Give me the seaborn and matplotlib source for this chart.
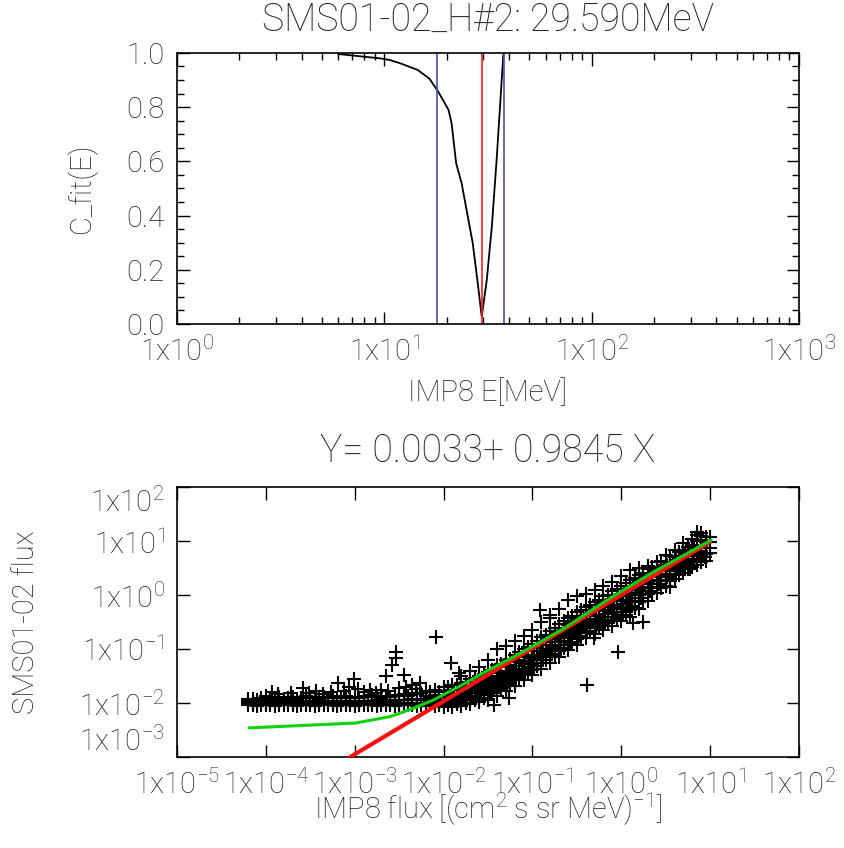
import numpy as np
import pandas as pd
import matplotlib
matplotlib.use("Agg")
import matplotlib.pyplot as plt
import seaborn as sns
from matplotlib.ticker import FixedLocator, FuncFormatter, LogLocator, NullLocator, MultipleLocator

# ---- top panel: C_fit(E) against IMP8 energy
e_mev = [5.98, 7.98, 9.53, 10.6, 11.9, 14.5, 16.5, 18.2, 20.4, 21.1, 22.2, 23.6,
         25.1, 26.7, 28.1, 29.5, 31.2, 33.0, 34.8, 36.4, 37.5]
c_fit = [0.996, 0.986, 0.980, 0.974, 0.962, 0.937, 0.905, 0.857, 0.790, 0.741, 0.593, 0.519,
         0.408, 0.298, 0.162, 0.027, 0.162, 0.359, 0.605, 0.839, 0.993]
e_best = 29.590
e_band = [18.0, 37.7]

# ---- bottom panel: SMS01-02 flux against IMP8 flux (log10 values)
fit_a, fit_b = 0.0033, 0.9845

green_logx = [-4.19, -2.99, -2.60, -2.36, -2.11, -1.82, -1.53, -1.14, -0.65, -0.16, 0.33, 1.01]
green_logy = [-2.46, -2.37, -2.25, -2.11, -1.94, -1.69, -1.42, -1.08, -0.62, -0.09, 0.40, 1.02]

plateau_logx = [-4.20, -4.15, -4.10, -4.05, -4.00, -3.95, -3.90, -3.85, -3.80, -3.75,
                -3.70, -3.65, -3.60, -3.55, -3.50, -3.45, -3.40, -3.35, -3.30, -3.25,
                -3.20, -3.15, -3.10, -3.05, -3.00, -2.95, -2.90, -2.85, -2.80, -2.75,
                -2.70, -2.65, -2.60, -2.55, -2.50, -2.45, -2.40, -2.35, -2.30, -2.25]
plateau_floor = [-2.00, -2.01, -2.00, -1.99, -2.00, -2.01, -2.00, -2.00, -1.99, -2.01,
                 -2.00, -2.00, -2.01, -2.00, -1.99, -2.00, -2.01, -2.00, -2.00, -1.99,
                 -2.01, -2.00, -2.00, -2.01, -2.00, -1.99, -2.00, -2.01, -2.00, -2.00,
                 -2.01, -2.00, -1.99, -2.00, -2.01, -2.00, -2.00, -2.01, -2.00, -2.01]
plateau_mid = [-1.97, -1.98, -1.97, -1.96, -1.98, -1.97, -1.96, -1.97, -1.98, -1.96,
               -1.97, -1.96, -1.98, -1.97, -1.96, -1.97, -1.98, -1.96, -1.97, -1.96,
               -1.97, -1.98, -1.96, -1.97, -1.96, -1.98, -1.97, -1.96, -1.97, -1.95,
               -1.96, -1.97, -1.95, -1.96, -1.95, -1.94, -1.95, -1.93, -1.94, -1.92]
plateau_upper = [-1.93, -1.92, -1.94, -1.91, -1.93, -1.90, -1.92, -1.88, -1.93, -1.91,
                 -1.89, -1.92, -1.90, -1.87, -1.91, -1.89, -1.92, -1.88, -1.90, -1.87,
                 -1.91, -1.89, -1.86, -1.90, -1.88, -1.91, -1.87, -1.89, -1.85, -1.88,
                 -1.90, -1.86, -1.88, -1.85, -1.87, -1.83, -1.86, -1.82, -1.84, -1.81]
plateau_lower = [-2.04, -2.03, -2.05, -2.04, -2.03, -2.04, -2.05, -2.03, -2.04, -2.04,
                 -2.03, -2.05, -2.04, -2.03, -2.04, -2.05, -2.03, -2.04, -2.04, -2.03,
                 -2.05, -2.04, -2.03, -2.04, -2.05, -2.03, -2.04, -2.04, -2.03, -2.05,
                 -2.04, -2.03, -2.04, -2.05, -2.03, -2.04, -2.04, -2.03, -2.05, -2.04]

band_logx = [-2.2, -2.15, -2.1, -2.05, -2.0, -1.95, -1.9, -1.85, -1.8, -1.75, -1.7, -1.65,
             -1.6, -1.55, -1.5, -1.45, -1.4, -1.35, -1.3, -1.25, -1.2, -1.15, -1.1, -1.05,
             -1.0, -0.95, -0.9, -0.85, -0.8, -0.75, -0.7, -0.65, -0.6, -0.55, -0.5, -0.45,
             -0.4, -0.35, -0.3, -0.25, -0.2, -0.15, -0.1, -0.05, 0.0, 0.05, 0.1, 0.15,
             0.2, 0.25, 0.3, 0.35, 0.4, 0.45, 0.5, 0.55, 0.6, 0.65, 0.7, 0.75, 0.8, 0.85,
             0.9, 0.95, 1.0]
band_logy = [
    [-2.06, -2.00, -1.94, -1.86, -1.78], [-2.02, -1.96, -1.88, -1.80],
    [-2.06, -2.00, -1.93, -1.85, -1.76], [-2.04, -1.97, -1.89, -1.80],
    [-2.08, -2.01, -1.94, -1.86, -1.78, -1.70], [-2.04, -1.96, -1.88, -1.79, -1.70],
    [-2.07, -2.00, -1.92, -1.84, -1.76, -1.66], [-2.02, -1.94, -1.86, -1.76, -1.66],
    [-2.05, -1.98, -1.90, -1.82, -1.73, -1.62, -1.50], [-1.99, -1.90, -1.81, -1.71, -1.60],
    [-2.02, -1.95, -1.87, -1.78, -1.68, -1.56, -1.40], [-1.95, -1.86, -1.76, -1.66, -1.54],
    [-1.98, -1.90, -1.82, -1.72, -1.62, -1.50, -1.34], [-1.90, -1.80, -1.70, -1.59, -1.47],
    [-1.94, -1.85, -1.76, -1.66, -1.55, -1.43, -1.20], [-1.82, -1.72, -1.61, -1.50, -1.38],
    [-1.86, -1.76, -1.66, -1.55, -1.44, -1.30, -1.00], [-1.74, -1.63, -1.52, -1.40, -1.28],
    [-1.78, -1.68, -1.57, -1.46, -1.34, -1.20, -0.95], [-1.64, -1.53, -1.42, -1.30, -1.18],
    [-1.68, -1.58, -1.47, -1.36, -1.24, -1.10, -0.85], [-1.54, -1.43, -1.32, -1.20, -1.06],
    [-1.58, -1.48, -1.37, -1.26, -1.14, -1.00, -0.76], [-1.44, -1.33, -1.22, -1.10, -0.96],
    [-1.48, -1.38, -1.27, -1.16, -1.04, -0.90, -0.65], [-1.32, -1.21, -1.10, -0.98, -0.84],
    [-1.36, -1.25, -1.14, -1.03, -0.92, -0.78, -0.50], [-1.21, -1.10, -0.99, -0.87, -0.73],
    [-1.25, -1.14, -1.03, -0.92, -0.80, -0.66, -0.42], [-1.10, -0.99, -0.87, -0.75, -0.60],
    [-1.14, -1.03, -0.92, -0.80, -0.68, -0.54, -0.25], [-0.98, -0.87, -0.75, -0.63, -0.48],
    [-1.02, -0.92, -0.80, -0.68, -0.56, -0.42, -0.08], [-0.88, -0.77, -0.65, -0.52, -0.38],
    [-0.92, -0.82, -0.70, -0.58, -0.46, -0.32, -0.02], [-0.77, -0.66, -0.54, -0.42, -0.28],
    [-0.80, -0.70, -0.59, -0.48, -0.36, -0.22, 0.03], [-0.68, -0.57, -0.45, -0.33, -0.18],
    [-0.72, -0.61, -0.50, -0.38, -0.26, -0.12, 0.10], [-0.60, -0.48, -0.36, -0.23, -0.08],
    [-0.64, -0.53, -0.41, -0.29, -0.16, -0.02, 0.18], [-0.52, -0.40, -0.27, -0.14, 0.01],
    [-0.58, -0.46, -0.33, -0.20, -0.07, 0.08, 0.24], [-0.44, -0.31, -0.18, -0.05, 0.12],
    [-0.48, -0.36, -0.23, -0.10, 0.03, 0.18, 0.36], [-0.36, -0.22, -0.08, 0.06, 0.22],
    [-0.40, -0.27, -0.13, 0.00, 0.13, 0.28, 0.46], [-0.24, -0.10, 0.04, 0.18, 0.32],
    [-0.25, -0.12, 0.00, 0.12, 0.24, 0.38, 0.50], [-0.10, 0.03, 0.16, 0.28, 0.42],
    [-0.10, 0.02, 0.13, 0.24, 0.35, 0.48, 0.54], [0.04, 0.16, 0.28, 0.40, 0.52],
    [0.05, 0.16, 0.27, 0.38, 0.49, 0.62], [0.14, 0.26, 0.38, 0.50, 0.64],
    [0.18, 0.28, 0.39, 0.50, 0.61, 0.74], [0.26, 0.37, 0.48, 0.59, 0.72],
    [0.30, 0.40, 0.50, 0.60, 0.70, 0.84], [0.38, 0.48, 0.58, 0.68, 0.80],
    [0.42, 0.52, 0.62, 0.72, 0.84, 0.96], [0.48, 0.58, 0.68, 0.78, 0.90],
    [0.52, 0.62, 0.72, 0.82, 0.94, 1.05], [0.56, 0.68, 0.78, 0.88, 1.00, 1.12],
    [0.62, 0.72, 0.82, 0.92, 1.02, 1.10], [0.64, 0.76, 0.88, 0.98, 1.08],
    [0.78, 0.88, 0.98, 1.08],
]

# a second, offset pass through the dense part of the cloud
fill_logx = [-1.78, -1.68, -1.58, -1.48, -1.38, -1.28, -1.18, -1.08, -0.98, -0.88, -0.78,
             -0.68, -0.58, -0.48, -0.38, -0.28, -0.18, -0.08, 0.02, 0.12, 0.22, 0.32, 0.42,
             0.52, 0.62, 0.72, 0.82]
fill_logy = [
    [-1.95, -1.85, -1.75], [-1.90, -1.79, -1.68], [-1.85, -1.73, -1.61],
    [-1.78, -1.65, -1.52], [-1.70, -1.57, -1.43], [-1.61, -1.48, -1.34],
    [-1.51, -1.38, -1.24], [-1.41, -1.28, -1.14], [-1.31, -1.18, -1.04],
    [-1.20, -1.07, -0.93], [-1.09, -0.96, -0.82], [-0.98, -0.85, -0.71],
    [-0.87, -0.74, -0.60], [-0.76, -0.63, -0.49], [-0.66, -0.53, -0.39],
    [-0.57, -0.44, -0.30], [-0.48, -0.35, -0.21], [-0.40, -0.26, -0.11],
    [-0.31, -0.16, -0.01], [-0.20, -0.05, 0.10], [-0.06, 0.08, 0.22],
    [0.08, 0.20, 0.33], [0.21, 0.33, 0.45], [0.33, 0.44, 0.56],
    [0.44, 0.55, 0.66], [0.55, 0.66, 0.77], [0.66, 0.77, 0.88],
]

stray_logx = [-4.00, -3.93, -3.86, -3.72, -3.58, -3.52, -3.44, -3.36, -3.27, -3.19, -3.12,
              -3.06, -3.01, -2.96, -2.90, -2.83, -2.76, -2.70, -2.65, -2.62, -2.58, -2.54,
              -2.53, -2.50, -2.45, -2.42, -2.36, -2.31, -2.27, -2.09, -1.92, -1.83, -1.26,
              -1.43, -0.92, -0.80, -0.04, -0.38, -0.31, 0.25, 0.13, 0.55, 0.77, 0.94, 0.90,
              0.85]
stray_logy = [-1.86, -1.80, -1.84, -1.82, -1.72, -1.82, -1.78, -1.84, -1.80, -1.63, -1.78,
              -1.70, -1.56, -1.74, -1.80, -1.76, -1.82, -1.75, -1.50, -1.78, -1.29, -1.05,
              -1.17, -1.72, -1.48, -1.70, -1.66, -1.74, -1.62, -0.77, -1.26, -1.44, -1.91,
              -2.03, -0.28, -0.37, -1.05, -1.66, -0.80, -0.49, -0.52, 0.15, 0.49, 0.71, 1.15,
              1.18]

# build the point table
pts_x = (plateau_logx * 4
         + [x for x, ys in zip(band_logx, band_logy) for _ in ys]
         + [x for x, ys in zip(fill_logx, fill_logy) for _ in ys]
         + stray_logx)
pts_y = (plateau_floor + plateau_mid + plateau_upper + plateau_lower
         + [y for ys in band_logy for y in ys]
         + [y for ys in fill_logy for y in ys]
         + stray_logy)
pts = pd.DataFrame({"imp8": 10.0 ** np.array(pts_x), "sms": 10.0 ** np.array(pts_y)})

green = pd.DataFrame({"x": 10.0 ** np.array(green_logx), "y": 10.0 ** np.array(green_logy)})
fit_x = 10.0 ** np.array([min(pts_x), max(pts_x)])
fit = pd.DataFrame({"x": fit_x, "y": 10.0 ** (fit_a + fit_b * np.log10(fit_x))})
curve = pd.DataFrame({"e": e_mev, "c": c_fit})

sns.set_theme(style="ticks")
plt.rcParams['font.family'] = ['Roboto', 'DejaVu Sans']
plt.rcParams['font.weight'] = 'light'
plt.rcParams['axes.labelweight'] = 'light'
plt.rcParams['axes.titleweight'] = 'light'
plt.rcParams['mathtext.default'] = 'regular'
txt = "#222222"
fs = 21

fig = plt.figure(figsize=(8.45, 8.48), dpi=100)
ax1 = fig.add_axes([0.2095, 0.618, 0.736, 0.3196])
ax2 = fig.add_axes([0.2095, 0.1073, 0.736, 0.318])

def sci(v, pos):
    return r'1x10$^{%d}$' % int(round(np.log10(v)))

for ax in (ax1, ax2):
    for s in ax.spines.values():
        s.set_color("black")
        s.set_linewidth(1.2)
    ax.tick_params(which="both", direction="in", top=True, right=True,
                   colors="black", labelcolor=txt, labelsize=fs, pad=9, width=1)
    ax.tick_params(which="major", length=9)
    ax.tick_params(which="minor", length=5)

# top panel
sns.lineplot(data=curve, x="e", y="c", color="black", lw=1.3, estimator=None, sort=False, ax=ax1)
for e in e_band:
    ax1.axvline(e, color="#4b4bb4", lw=1.2)
ax1.axvline(e_best, color="#ff1a1a", lw=1.2)
ax1.set_xscale("log")
ax1.set_xlim(1, 1000)
ax1.set_ylim(0, 1.0)
ax1.xaxis.set_major_locator(FixedLocator([1, 10, 100, 1000]))
ax1.xaxis.set_minor_locator(LogLocator(base=10, subs=np.arange(2, 10)))
ax1.xaxis.set_major_formatter(FuncFormatter(sci))
ax1.yaxis.set_major_locator(MultipleLocator(0.2))
ax1.yaxis.set_minor_locator(MultipleLocator(0.05))
ax1.yaxis.set_major_formatter(FuncFormatter(lambda v, p: f"{v:.1f}"))
ax1.set_xlabel("IMP8 E[MeV]", fontsize=fs, color=txt)
ax1.set_ylabel("C_fit(E)", fontsize=fs, color=txt)
ax1.xaxis.set_label_coords(0.5, -0.255)
ax1.xaxis.label.set_va("center")
ax1.yaxis.set_label_coords(-0.153, 0.5)
ax1.yaxis.label.set_va("center")
ax1.set_title("SMS01-02_H#2: 29.590MeV", fontsize=27, color=txt, y=1.122, va="center", pad=0)

# bottom panel
sns.scatterplot(data=pts, x="imp8", y="sms", marker="+", color="black", s=95,
                linewidth=1.5, ax=ax2, zorder=2)
sns.lineplot(data=fit, x="x", y="y", color="#ff1010", lw=3.0, estimator=None, ax=ax2, zorder=3)
sns.lineplot(data=green, x="x", y="y", color="#10d010", lw=2.2, estimator=None, ax=ax2, zorder=4)
ax2.set_xscale("log")
ax2.set_yscale("log")
ax2.set_xlim(1e-5, 1e2)
ax2.set_ylim(1e-3, 1e2)
ax2.xaxis.set_major_locator(FixedLocator([10.0 ** k for k in range(-5, 3)]))
ax2.xaxis.set_minor_locator(NullLocator())
ax2.yaxis.set_major_locator(FixedLocator([10.0 ** k for k in range(-3, 3)]))
ax2.yaxis.set_minor_locator(LogLocator(base=10, subs=np.arange(2, 10)))
ax2.xaxis.set_major_formatter(FuncFormatter(sci))
ax2.yaxis.set_major_formatter(FuncFormatter(sci))
ax2.set_xlabel(r"IMP8 flux [(cm$^{2}$ s sr MeV)$^{-1}$]", fontsize=fs, color=txt)
ax2.set_ylabel("SMS01-02 flux", fontsize=fs, color=txt)
ax2.xaxis.set_label_coords(0.5, -0.196)
ax2.xaxis.label.set_va("center")
ax2.yaxis.set_label_coords(-0.243, 0.5)
ax2.yaxis.label.set_va("center")
ax2.set_title("Y= 0.0033+ 0.9845 X", fontsize=27, color=txt, y=1.133, va="center", pad=0)

# end labels of the y axes sit inside the frame, as in the original
for ax in (ax1, ax2):
    labs = ax.get_yticklabels()
    labs[0].set_va("bottom")
    labs[-1].set_va("top")

fig.savefig("out.png", dpi=100)
